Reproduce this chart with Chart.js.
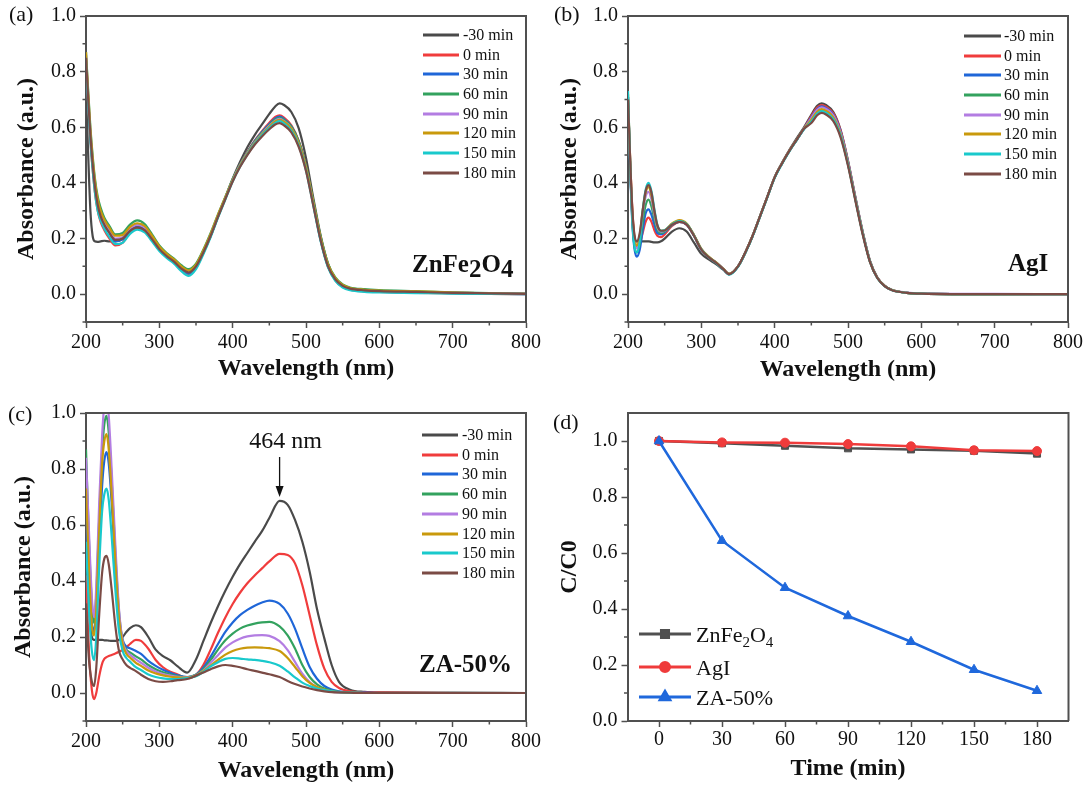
<!DOCTYPE html>
<html>
<head>
<meta charset="utf-8">
<script src="https://cdn.jsdelivr.net/npm/chart.js@4.4.0/dist/chart.umd.min.js"></script>
<style>
  html, body { margin: 0; padding: 0; background: #fff; }
  #wrap { position: relative; width: 1089px; height: 787px; overflow: hidden; }
  canvas { position: absolute; }
</style>
</head>
<body>
<div id="wrap">
  <canvas id="ca" width="545" height="393" style="left:0;top:0"></canvas>
  <canvas id="cb" width="544" height="393" style="left:545px;top:0"></canvas>
  <canvas id="cc" width="545" height="394" style="left:0;top:393px"></canvas>
  <canvas id="cd" width="544" height="394" style="left:545px;top:393px"></canvas>
</div>
<script>
// ---- data ----
const legendLabels = ['-30 min', '0 min', '30 min', '60 min', '90 min', '120 min', '150 min', '180 min'];
const seriesColors = ['#4a4a4a', '#f03c3c', '#1f66d8', '#33a25e', '#b37de2', '#c9990c', '#19c9cc', '#7b4b45'];

const specTicksX = [200, 300, 400, 500, 600, 700, 800];
const specMinorX = [250, 350, 450, 550, 650, 750];
const absTicksY = [0, 0.2, 0.4, 0.6, 0.8, 1.0];
const absMinorY = [-0.1, 0.1, 0.3, 0.5, 0.7, 0.9];

// (a) ZnFe2O4
const wlA = [200, 203, 206, 209, 212, 216, 220, 225, 232, 240, 250, 260, 270, 280, 290, 300, 310, 320, 330, 340,
  350, 360, 370, 380, 390, 400, 410, 420, 430, 440, 450, 458, 464, 470, 480, 490, 500, 510, 520, 530,
  540, 550, 560, 580, 600, 650, 700, 750, 800];
const aM30 = [0.74, 0.5, 0.3, 0.21, 0.19, 0.188, 0.19, 0.192, 0.19, 0.19, 0.198, 0.222, 0.236, 0.228, 0.195, 0.16, 0.136, 0.116, 0.09, 0.08,
  0.1, 0.15, 0.21, 0.28, 0.347, 0.415, 0.475, 0.528, 0.572, 0.61, 0.648, 0.675, 0.686, 0.68, 0.655, 0.597, 0.49, 0.345, 0.21, 0.11,
  0.055, 0.03, 0.02, 0.014, 0.011, 0.008, 0.005, 0.003, 0.001];
const a0 = [0.84, 0.68, 0.55, 0.45, 0.37, 0.3, 0.26, 0.23, 0.2, 0.175, 0.185, 0.222, 0.24, 0.23, 0.196, 0.16, 0.135, 0.115, 0.088, 0.07,
  0.095, 0.148, 0.21, 0.28, 0.345, 0.41, 0.466, 0.512, 0.552, 0.586, 0.616, 0.637, 0.643, 0.635, 0.607, 0.552, 0.46, 0.33, 0.198, 0.1,
  0.05, 0.026, 0.016, 0.01, 0.008, 0.005, 0.003, 0.001, 0.0];
const a30 = [0.85, 0.7, 0.57, 0.47, 0.39, 0.32, 0.28, 0.25, 0.22, 0.19, 0.197, 0.228, 0.243, 0.232, 0.2, 0.163, 0.138, 0.118, 0.092, 0.075,
  0.098, 0.15, 0.21, 0.28, 0.345, 0.41, 0.465, 0.51, 0.55, 0.583, 0.612, 0.632, 0.638, 0.63, 0.603, 0.548, 0.455, 0.325, 0.195, 0.1,
  0.052, 0.028, 0.018, 0.012, 0.009, 0.006, 0.004, 0.002, 0.0];
const a60 = [0.87, 0.73, 0.6, 0.5, 0.42, 0.35, 0.31, 0.275, 0.245, 0.215, 0.22, 0.25, 0.265, 0.252, 0.215, 0.175, 0.148, 0.128, 0.104, 0.09,
  0.11, 0.16, 0.22, 0.287, 0.35, 0.413, 0.466, 0.51, 0.548, 0.58, 0.608, 0.628, 0.634, 0.627, 0.602, 0.55, 0.46, 0.335, 0.207, 0.11,
  0.06, 0.035, 0.024, 0.018, 0.015, 0.011, 0.007, 0.004, 0.002];
const a90 = [0.86, 0.71, 0.58, 0.48, 0.4, 0.33, 0.29, 0.26, 0.23, 0.2, 0.205, 0.235, 0.25, 0.24, 0.205, 0.168, 0.142, 0.122, 0.096, 0.08,
  0.102, 0.153, 0.213, 0.282, 0.346, 0.41, 0.463, 0.507, 0.545, 0.577, 0.605, 0.624, 0.63, 0.622, 0.596, 0.542, 0.452, 0.325, 0.197, 0.103,
  0.055, 0.031, 0.02, 0.014, 0.011, 0.008, 0.005, 0.003, 0.001];
const a120 = [0.87, 0.72, 0.59, 0.49, 0.41, 0.34, 0.3, 0.268, 0.238, 0.21, 0.213, 0.242, 0.255, 0.245, 0.21, 0.172, 0.145, 0.125, 0.1, 0.085,
  0.106, 0.157, 0.217, 0.285, 0.348, 0.41, 0.462, 0.505, 0.543, 0.575, 0.602, 0.621, 0.627, 0.62, 0.595, 0.543, 0.455, 0.33, 0.202, 0.107,
  0.058, 0.033, 0.022, 0.016, 0.013, 0.01, 0.006, 0.003, 0.001];
const a150 = [0.84, 0.68, 0.55, 0.45, 0.37, 0.3, 0.265, 0.235, 0.205, 0.18, 0.185, 0.217, 0.232, 0.222, 0.19, 0.155, 0.13, 0.11, 0.083, 0.066,
  0.09, 0.143, 0.205, 0.275, 0.34, 0.405, 0.458, 0.502, 0.54, 0.571, 0.598, 0.616, 0.622, 0.614, 0.588, 0.535, 0.445, 0.318, 0.19, 0.096,
  0.048, 0.024, 0.014, 0.008, 0.006, 0.004, 0.002, 0.001, 0.0];
const a180 = [0.85, 0.7, 0.57, 0.47, 0.39, 0.32, 0.28, 0.25, 0.22, 0.195, 0.2, 0.228, 0.24, 0.23, 0.198, 0.162, 0.137, 0.117, 0.092, 0.078,
  0.1, 0.15, 0.21, 0.278, 0.342, 0.405, 0.457, 0.5, 0.537, 0.567, 0.593, 0.61, 0.615, 0.607, 0.582, 0.53, 0.443, 0.318, 0.193, 0.1,
  0.053, 0.03, 0.02, 0.014, 0.011, 0.008, 0.005, 0.003, 0.001];

// (b) AgI
const wlB = [200, 203, 206, 209, 212, 216, 220, 224, 228, 232, 236, 240, 245, 250, 260, 270, 280, 290, 300, 310,
  320, 330, 338, 350, 360, 370, 380, 390, 400, 410, 420, 430, 440, 450, 458, 464, 470, 480, 490, 500,
  510, 520, 530, 540, 550, 560, 580, 600, 700, 800];
const bM30 = [0.68, 0.45, 0.28, 0.2, 0.19, 0.19, 0.19, 0.19, 0.19, 0.188, 0.186, 0.186, 0.19, 0.2, 0.225, 0.237, 0.225, 0.185, 0.145, 0.125,
  0.108, 0.088, 0.073, 0.1, 0.15, 0.21, 0.28, 0.35, 0.42, 0.472, 0.518, 0.56, 0.6, 0.645, 0.677, 0.686, 0.68, 0.655, 0.59, 0.48,
  0.35, 0.225, 0.12, 0.06, 0.03, 0.015, 0.005, 0.002, 0.0, 0.0];
const b0 = [0.7, 0.48, 0.3, 0.2, 0.17, 0.18, 0.22, 0.26, 0.275, 0.26, 0.23, 0.21, 0.205, 0.215, 0.245, 0.26, 0.25, 0.21, 0.16, 0.133,
  0.113, 0.09, 0.072, 0.1, 0.15, 0.21, 0.28, 0.35, 0.42, 0.47, 0.515, 0.555, 0.595, 0.64, 0.671, 0.68, 0.674, 0.65, 0.587, 0.478,
  0.348, 0.223, 0.119, 0.06, 0.03, 0.015, 0.005, 0.002, 0.0, 0.0];
const b30 = [0.71, 0.45, 0.25, 0.16, 0.135, 0.16, 0.23, 0.29, 0.305, 0.285, 0.25, 0.22, 0.215, 0.222, 0.248, 0.26, 0.25, 0.21, 0.16, 0.133,
  0.113, 0.09, 0.072, 0.1, 0.15, 0.21, 0.28, 0.35, 0.42, 0.47, 0.515, 0.555, 0.595, 0.636, 0.666, 0.675, 0.669, 0.645, 0.583, 0.475,
  0.346, 0.222, 0.118, 0.059, 0.03, 0.015, 0.005, 0.002, 0.0, 0.0];
const b60 = [0.71, 0.46, 0.26, 0.17, 0.15, 0.18, 0.26, 0.32, 0.34, 0.315, 0.27, 0.232, 0.22, 0.225, 0.25, 0.263, 0.252, 0.212, 0.162, 0.134,
  0.114, 0.091, 0.072, 0.1, 0.15, 0.21, 0.28, 0.35, 0.42, 0.47, 0.515, 0.555, 0.595, 0.623, 0.651, 0.66, 0.654, 0.631, 0.571, 0.467,
  0.341, 0.219, 0.117, 0.058, 0.029, 0.015, 0.005, 0.002, 0.0, 0.0];
const b90 = [0.71, 0.47, 0.28, 0.185, 0.165, 0.2, 0.29, 0.35, 0.368, 0.34, 0.285, 0.24, 0.225, 0.228, 0.252, 0.264, 0.252, 0.212, 0.162, 0.134,
  0.114, 0.091, 0.072, 0.1, 0.15, 0.21, 0.28, 0.35, 0.42, 0.47, 0.515, 0.555, 0.595, 0.633, 0.663, 0.672, 0.666, 0.642, 0.58, 0.473,
  0.345, 0.221, 0.118, 0.059, 0.03, 0.015, 0.006, 0.003, 0.001, 0.0];
const b120 = [0.72, 0.48, 0.29, 0.195, 0.175, 0.21, 0.3, 0.365, 0.385, 0.355, 0.295, 0.245, 0.228, 0.23, 0.254, 0.266, 0.254, 0.213, 0.163, 0.135,
  0.114, 0.091, 0.073, 0.1, 0.15, 0.21, 0.28, 0.35, 0.42, 0.47, 0.515, 0.555, 0.595, 0.627, 0.656, 0.665, 0.659, 0.636, 0.575, 0.47,
  0.343, 0.22, 0.117, 0.059, 0.03, 0.015, 0.005, 0.002, 0.0, 0.0];
const b150 = [0.73, 0.47, 0.27, 0.17, 0.15, 0.19, 0.3, 0.375, 0.4, 0.37, 0.305, 0.25, 0.228, 0.23, 0.252, 0.263, 0.252, 0.211, 0.161, 0.133,
  0.112, 0.089, 0.07, 0.098, 0.148, 0.208, 0.278, 0.348, 0.418, 0.468, 0.513, 0.553, 0.593, 0.621, 0.649, 0.658, 0.652, 0.629, 0.569, 0.466,
  0.34, 0.218, 0.116, 0.058, 0.029, 0.014, 0.005, 0.002, 0.0, 0.0];
const b180 = [0.7, 0.48, 0.3, 0.21, 0.19, 0.22, 0.3, 0.37, 0.392, 0.365, 0.3, 0.248, 0.228, 0.229, 0.25, 0.26, 0.25, 0.21, 0.16, 0.133,
  0.113, 0.09, 0.072, 0.1, 0.15, 0.21, 0.28, 0.35, 0.42, 0.47, 0.515, 0.555, 0.595, 0.615, 0.643, 0.652, 0.646, 0.622, 0.563, 0.462,
  0.337, 0.215, 0.115, 0.058, 0.029, 0.014, 0.005, 0.002, 0.0, 0.0];

// (c) ZA-50%
const wlC = [200, 204, 208, 211, 214, 218, 222, 225, 228, 231, 235, 240, 245, 250, 255, 260, 268, 275, 285, 295,
  305, 315, 325, 338, 350, 360, 370, 380, 390, 400, 410, 420, 430, 440, 450, 464, 475, 485, 495, 505,
  515, 525, 535, 545, 560, 580, 600, 700, 800];
const cM30 = [0.52, 0.3, 0.2, 0.19, 0.19, 0.19, 0.19, 0.188, 0.188, 0.187, 0.186, 0.186, 0.19, 0.2, 0.218, 0.232, 0.242, 0.235, 0.2, 0.155,
  0.132, 0.117, 0.095, 0.073, 0.12, 0.185, 0.25, 0.31, 0.365, 0.415, 0.46, 0.5, 0.54, 0.578, 0.625, 0.686, 0.672, 0.618, 0.54, 0.433,
  0.3, 0.195, 0.1, 0.04, 0.012, 0.004, 0.002, 0.001, 0.0];
const c0 = [0.42, 0.15, 0.01, -0.022, 0.0, 0.06, 0.105, 0.122, 0.128, 0.132, 0.136, 0.141, 0.147, 0.154, 0.163, 0.175, 0.19, 0.186, 0.158, 0.118,
  0.092, 0.076, 0.066, 0.053, 0.065, 0.1, 0.155, 0.215, 0.27, 0.318, 0.358, 0.392, 0.42, 0.445, 0.47, 0.497, 0.493, 0.463, 0.385, 0.278,
  0.17, 0.087, 0.04, 0.018, 0.006, 0.002, 0.001, 0.0, 0.0];
const c30 = [0.62, 0.38, 0.25, 0.22, 0.3, 0.52, 0.74, 0.83, 0.86, 0.82, 0.68, 0.45, 0.27, 0.19, 0.165, 0.16, 0.15, 0.14, 0.115, 0.097,
  0.083, 0.072, 0.063, 0.057, 0.065, 0.09, 0.13, 0.175, 0.218, 0.252, 0.278, 0.297, 0.312, 0.323, 0.33, 0.318, 0.284, 0.23, 0.159, 0.093,
  0.051, 0.025, 0.012, 0.006, 0.002, 0.001, 0.0, 0.0, 0.0];
const c60 = [0.87, 0.55, 0.32, 0.25, 0.35, 0.62, 0.86, 0.96, 0.99, 0.93, 0.76, 0.5, 0.29, 0.185, 0.155, 0.145, 0.131, 0.12, 0.1, 0.085,
  0.074, 0.066, 0.06, 0.056, 0.065, 0.085, 0.118, 0.155, 0.188, 0.212, 0.23, 0.241, 0.248, 0.252, 0.254, 0.238, 0.206, 0.159, 0.1, 0.057,
  0.031, 0.016, 0.008, 0.004, 0.001, 0.0, 0.0, 0.0, 0.0];
const c90 = [0.84, 0.58, 0.34, 0.27, 0.38, 0.68, 0.92, 1.03, 1.06, 0.99, 0.8, 0.53, 0.3, 0.185, 0.15, 0.137, 0.12, 0.108, 0.09, 0.077,
  0.068, 0.062, 0.058, 0.056, 0.063, 0.08, 0.108, 0.135, 0.162, 0.181, 0.194, 0.202, 0.206, 0.207, 0.204, 0.185, 0.153, 0.111, 0.069, 0.039,
  0.021, 0.011, 0.005, 0.002, 0.001, 0.0, 0.0, 0.0, 0.0];
const c120 = [0.73, 0.45, 0.24, 0.205, 0.3, 0.58, 0.82, 0.9, 0.925, 0.87, 0.71, 0.47, 0.27, 0.175, 0.14, 0.127, 0.108, 0.097, 0.08, 0.07,
  0.063, 0.058, 0.056, 0.055, 0.062, 0.078, 0.098, 0.118, 0.137, 0.15, 0.158, 0.162, 0.163, 0.162, 0.16, 0.15, 0.125, 0.093, 0.06, 0.036,
  0.021, 0.012, 0.006, 0.003, 0.001, 0.0, 0.0, 0.0, 0.0];
const c150 = [0.54, 0.3, 0.15, 0.117, 0.2, 0.45, 0.65, 0.71, 0.73, 0.69, 0.56, 0.37, 0.22, 0.15, 0.125, 0.112, 0.092, 0.082, 0.066, 0.057,
  0.052, 0.05, 0.05, 0.053, 0.06, 0.075, 0.095, 0.11, 0.122, 0.125, 0.123, 0.12, 0.118, 0.115, 0.11, 0.097, 0.077, 0.056, 0.037, 0.025,
  0.016, 0.01, 0.006, 0.003, 0.001, 0.0, 0.0, 0.0, 0.0];
const c180 = [0.32, 0.12, 0.04, 0.025, 0.09, 0.28, 0.43, 0.48, 0.49, 0.46, 0.37, 0.24, 0.15, 0.12, 0.1, 0.09, 0.078, 0.065, 0.05, 0.042,
  0.04, 0.042, 0.046, 0.05, 0.062, 0.073, 0.085, 0.095, 0.1, 0.097, 0.092, 0.085, 0.079, 0.073, 0.067, 0.057, 0.043, 0.032, 0.023, 0.016,
  0.01, 0.006, 0.003, 0.002, 0.001, 0.0, 0.0, 0.0, 0.0];

// (d) C/C0 vs time
const timeMin = [0, 30, 60, 90, 120, 150, 180];
const dZnFe2O4 = [1.0, 0.992, 0.983, 0.974, 0.97, 0.965, 0.955];
const dAgI = [1.0, 0.995, 0.994, 0.989, 0.981, 0.967, 0.964];
const dZA50 = [1.0, 0.644, 0.476, 0.375, 0.283, 0.183, 0.108];
const timeTicks = [0, 30, 60, 90, 120, 150, 180];
const timeMinor = [15, 45, 75, 105, 135, 165];
const ratioTicks = [0, 0.2, 0.4, 0.6, 0.8, 1.0];
const ratioMinor = [0.1, 0.3, 0.5, 0.7, 0.9];

// ---- styling ----
const serif = "'Liberation Serif', 'Times New Roman', serif";
const axisColor = '#505050';
const ink = '#111';
const tickFont = { family: serif, size: 20, lineHeight: 1.2 };
const titleFont = { family: serif, size: 24, weight: 'bold', lineHeight: 1.2 };

function frame(minorX, minorY) {
  return {
    id: 'frame',
    afterDraw(chart) {
      const { ctx, chartArea: a, scales } = chart;
      ctx.save();
      ctx.strokeStyle = axisColor;
      ctx.lineWidth = 2;
      ctx.beginPath();
      ctx.moveTo(a.left, a.top);
      ctx.lineTo(a.right, a.top);
      ctx.lineTo(a.right, a.bottom);
      ctx.stroke();
      ctx.lineWidth = 1.5;
      ctx.beginPath();
      minorX.forEach(v => {
        const p = scales.x.getPixelForValue(v);
        ctx.moveTo(p, a.bottom); ctx.lineTo(p, a.bottom + 3.5);
      });
      minorY.forEach(v => {
        const p = scales.y.getPixelForValue(v);
        ctx.moveTo(a.left, p); ctx.lineTo(a.left - 3.5, p);
      });
      ctx.stroke();
      ctx.restore();
    }
  };
}

// draw text runs (for subscripts)
function runs(ctx, x, y, parts) {
  parts.forEach(p => {
    ctx.font = p.font;
    ctx.fillText(p.t, x, y + (p.dy || 0));
    x += ctx.measureText(p.t).width;
  });
}

function texts(draw) {
  return { id: 'texts', afterDraw(chart) { const ctx = chart.ctx; ctx.save(); ctx.fillStyle = ink; draw(ctx, chart); ctx.restore(); } };
}

function timeLegend(x1, x2, tx, rows) {
  return texts(ctx => {
    ctx.textBaseline = 'middle';
    ctx.font = `16px ${serif}`;
    legendLabels.forEach((lab, i) => {
      ctx.strokeStyle = seriesColors[i];
      ctx.lineWidth = 3;
      ctx.beginPath();
      ctx.moveTo(x1, rows[i]); ctx.lineTo(x2, rows[i]);
      ctx.stroke();
      ctx.fillText(lab, tx, rows[i] + 1);
    });
  });
}

function spectrumChart(id, wl, series, box, pads, extras) {
  const datasets = series.map((vals, i) => ({
    label: legendLabels[i],
    data: wl.map((w, k) => ({ x: w, y: vals[k] })),
    borderColor: seriesColors[i],
    backgroundColor: seriesColors[i],
    borderWidth: 2.2,
    pointRadius: 0,
    cubicInterpolationMode: 'monotone',
    order: -i
  }));
  return new Chart(document.getElementById(id), {
    type: 'line',
    data: { datasets },
    options: {
      responsive: false,
      animation: false,
      layout: { padding: { left: 0, top: box.top, right: box.w - box.right, bottom: 0 } },
      plugins: { legend: { display: false }, tooltip: { enabled: false } },
      scales: {
        x: {
          type: 'linear', min: 200, max: 800,
          afterBuildTicks: s => { s.ticks = specTicksX.map(v => ({ value: v })); },
          afterFit: s => { s.height = box.h - box.bottom; },
          ticks: { font: tickFont, color: ink, padding: pads.xt, autoSkip: false, maxRotation: 0 },
          grid: { drawOnChartArea: false, tickLength: 6, tickWidth: 1.5, tickColor: axisColor },
          border: { color: axisColor, width: 2 },
          title: { display: true, text: 'Wavelength (nm)', font: titleFont, color: ink, padding: { top: 0, bottom: pads.xTitle } }
        },
        y: {
          min: -0.1, max: 1.0,
          afterBuildTicks: s => { s.ticks = absTicksY.map(v => ({ value: v })); },
          afterFit: s => { s.width = box.left; },
          ticks: { font: tickFont, color: ink, padding: 4, callback: v => v.toFixed(1) },
          grid: { drawOnChartArea: false, tickLength: 6, tickWidth: 1.5, tickColor: axisColor },
          border: { color: axisColor, width: 2 },
          title: { display: true, text: 'Absorbance (a.u.)', font: titleFont, color: ink, padding: { top: pads.yTitle, bottom: 0 } }
        }
      }
    },
    plugins: [frame(specMinorX, absMinorY)].concat(extras)
  });
}

// (a)
spectrumChart('ca', wlA, [aM30, a0, a30, a60, a90, a120, a150, a180],
  { w: 545, h: 393, left: 86, right: 526, top: 15, bottom: 322 },
  { xt: 3, xTitle: 10, yTitle: 12 },
  [
    timeLegend(423, 459, 463, [35, 55, 74, 94, 114, 133, 153, 173]),
    texts(ctx => {
      ctx.textBaseline = 'middle';
      ctx.font = `22px ${serif}`;
      ctx.fillText('(a)', 9, 15);
      ctx.textBaseline = 'alphabetic';
      const b = `bold 25px ${serif}`;
      runs(ctx, 412, 272, [{ t: 'ZnFe', font: b }, { t: '2', font: b, dy: 5 }, { t: 'O', font: b }, { t: '4', font: b, dy: 5 }]);
    })
  ]);

// (b)
spectrumChart('cb', wlB, [bM30, b0, b30, b60, b90, b120, b150, b180],
  { w: 544, h: 393, left: 83, right: 523, top: 15, bottom: 322 },
  { xt: 3, xTitle: 9, yTitle: 10 },
  [
    timeLegend(419, 456, 459, [36, 56, 75, 95, 115, 134, 154, 174]),
    texts(ctx => {
      ctx.textBaseline = 'middle';
      ctx.font = `22px ${serif}`;
      ctx.fillText('(b)', 9, 15);
      ctx.textBaseline = 'alphabetic';
      ctx.font = `bold 25px ${serif}`;
      ctx.fillText('AgI', 463, 271);
    })
  ]);

// (c)
spectrumChart('cc', wlC, [cM30, c0, c30, c60, c90, c120, c150, c180],
  { w: 545, h: 394, left: 86, right: 526, top: 20, bottom: 328 },
  { xt: 3, xTitle: 2, yTitle: 9 },
  [
    timeLegend(422, 458, 462, [42, 62, 81, 101, 121, 141, 160, 180]),
    texts((ctx, chart) => {
      ctx.textBaseline = 'middle';
      ctx.font = `22px ${serif}`;
      ctx.fillText('(c)', 8, 22);
      ctx.textBaseline = 'alphabetic';
      ctx.font = `bold 25px ${serif}`;
      ctx.fillText('ZA-50%', 419, 279);
      // peak marker
      const px = chart.scales.x.getPixelForValue(464);
      ctx.font = `24px ${serif}`;
      ctx.textAlign = 'center';
      ctx.textBaseline = 'middle';
      ctx.fillText('464 nm', px + 6, 49);
      ctx.strokeStyle = ink;
      ctx.lineWidth = 1.3;
      ctx.beginPath();
      ctx.moveTo(px, 64); ctx.lineTo(px, 96);
      ctx.stroke();
      ctx.beginPath();
      ctx.moveTo(px, 104); ctx.lineTo(px - 4, 93); ctx.lineTo(px + 4, 93); ctx.closePath();
      ctx.fill();
    })
  ]);

// (d)
const dColors = ['#505050', '#ef3b3b', '#1f68dc'];
const dStyles = ['rect', 'circle', 'triangle'];
const dRadius = [5, 4.5, 5.5];
new Chart(document.getElementById('cd'), {
  type: 'line',
  data: {
    labels: timeMin,
    datasets: [dZnFe2O4, dAgI, dZA50].map((vals, i) => ({
      label: ['ZnFe2O4', 'AgI', 'ZA-50%'][i],
      data: timeMin.map((t, k) => ({ x: t, y: vals[k] })),
      borderColor: dColors[i],
      backgroundColor: dColors[i],
      borderWidth: 2.5,
      pointStyle: dStyles[i],
      pointRadius: dRadius[i],
      pointBorderWidth: 1,
      tension: 0,
      order: -i
    }))
  },
  options: {
    responsive: false,
    animation: false,
    layout: { padding: { left: 0, top: 20, right: 544 - 523.5, bottom: 0 } },
    plugins: { legend: { display: false }, tooltip: { enabled: false } },
    scales: {
      x: {
        type: 'linear', min: -15, max: 195,
        afterBuildTicks: s => { s.ticks = timeTicks.map(v => ({ value: v })); },
        afterFit: s => { s.height = 394 - 328; },
        ticks: { font: tickFont, color: ink, padding: 1, autoSkip: false, maxRotation: 0 },
        grid: { drawOnChartArea: false, tickLength: 6, tickWidth: 1.5, tickColor: axisColor },
        border: { color: axisColor, width: 2 },
        title: { display: true, text: 'Time (min)', font: titleFont, color: ink, padding: { top: 0, bottom: 4 } }
      },
      y: {
        min: 0, max: 1.1,
        afterBuildTicks: s => { s.ticks = ratioTicks.map(v => ({ value: v })); },
        afterFit: s => { s.width = 82.5; },
        ticks: { font: tickFont, color: ink, padding: 4, callback: v => v.toFixed(1) },
        grid: { drawOnChartArea: false, tickLength: 6, tickWidth: 1.5, tickColor: axisColor },
        border: { color: axisColor, width: 2 },
        title: { display: true, text: 'C/C0', font: titleFont, color: ink, padding: { top: 10, bottom: 0 } }
      }
    }
  },
  plugins: [
    frame(timeMinor, ratioMinor),
    texts((ctx, chart) => {
      ctx.textBaseline = 'middle';
      ctx.font = `22px ${serif}`;
      ctx.fillText('(d)', 8, 30);
      const rows = [241, 274, 304];
      const f = `22px ${serif}`;
      const fs = `15px ${serif}`;
      rows.forEach((ry, i) => {
        ctx.strokeStyle = dColors[i];
        ctx.fillStyle = dColors[i];
        ctx.lineWidth = 3;
        ctx.beginPath();
        ctx.moveTo(94, ry); ctx.lineTo(146, ry);
        ctx.stroke();
        Chart.helpers.drawPoint(ctx, { pointStyle: dStyles[i], radius: dRadius[i], borderWidth: 1 }, 120, ry);
        ctx.fill();
      });
      ctx.fillStyle = ink;
      ctx.textBaseline = 'alphabetic';
      runs(ctx, 151, rows[0] + 8, [{ t: 'ZnFe', font: f }, { t: '2', font: fs, dy: 5 }, { t: 'O', font: f }, { t: '4', font: fs, dy: 5 }]);
      ctx.font = f;
      ctx.fillText('AgI', 151, rows[1] + 8);
      ctx.fillText('ZA-50%', 151, rows[2] + 8);
    })
  ]
});
</script>
</body>
</html>
